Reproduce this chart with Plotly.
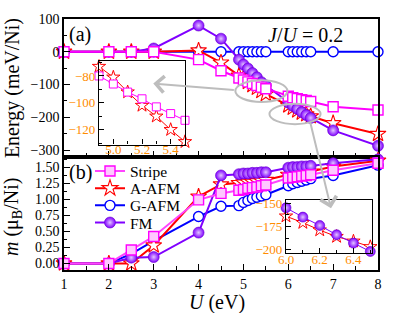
import plotly.graph_objects as go

# ---------------- data ----------------
U = [1, 2, 2.5, 3, 4, 4.5, 4.9, 5.0, 5.1, 5.2, 5.3, 5.4, 5.5,
     6.0, 6.1, 6.2, 6.3, 6.4, 6.5, 7, 8]

# Energy (meV/Ni), panel (a)
E_stripe = [0, 0, 0, 0, -24, -58, -80, -86, -92, -97, -103, -108, -113,
            -136, -140, -143, -146, -149, -152, -168, -178]
E_aafm = [0, 0, 0, 0, 4, -33, -73, -81, -92, -102, -110, -120, -129,
          -164, -171, -179, -186, -191, -197, -218, -251]
E_gafm = [0, 0, 0, 0, 0, 0, 0, 0, 0, 0, 0, 0, 0,
          0, 0, 0, 0, 0, 0, 0, 0]
E_fm = [0, 0, 0, 10, 80, 40, -24, -39, -51, -65, -78, -93, -103,
        -155, -165, -174, -184, -193, -202, -240, -287]

# magnetic moment m (muB/Ni), panel (b)
M_stripe = [0, 0, 0.21, 0.42, 0.99, 1.09, 1.14, 1.15, 1.17, 1.18, 1.19, 1.21, 1.22,
            1.33, 1.34, 1.35, 1.36, 1.37, 1.38, 1.45, 1.56]
M_aafm = [0, 0, 0, 0.28, 1.04, 1.23, 1.25, 1.26, 1.27, 1.27, 1.28, 1.29, 1.30,
          1.38, 1.39, 1.40, 1.41, 1.42, 1.43, 1.51, 1.60]
M_gafm = [0, 0, 0.15, 0.35, 0.73, 0.89, 0.90, 0.95, 0.98, 1.01, 1.03, 1.05, 1.07,
          1.21, 1.24, 1.26, 1.28, 1.30, 1.32, 1.37, 1.53]
M_fm = [0, 0, 0.09, 0.10, 0.48, 1.37, 1.39, 1.40, 1.40, 1.41, 1.41, 1.42, 1.42,
        1.49, 1.50, 1.50, 1.51, 1.51, 1.52, 1.56, 1.62]

NAMES = ["Stripe", "A-AFM", "G-AFM", "FM"]
X_TICKS = [1, 2, 3, 4, 5, 6, 7, 8]
M_TICKS = [0, 0.25, 0.5, 0.75, 1.0, 1.25, 1.5]
E_TICKS = [100, 0, -100, -200, -300]

INSET_A = slice(6, 13)   # U = 4.9 ... 5.5
INSET_B = slice(13, 19)  # U = 6.0 ... 6.5

# ---------------- style ----------------
FONT = "Liberation Serif"
ORANGE = "#FF8C00"
C_STRIPE, C_AAFM, C_GAFM, C_FM = "#FF00FF", "#FF0000", "#0000FF", "#8000FF"
GRAY = "#BDBDBD"
W, H = 399, 313
L, R, T, B = 64, 21, 14, 43
PW, PH = W - L - R, H - T - B
SPLIT = (270 - 155) / PH


def px(x):
    return (x - L) / PW


def py(y):
    return (270 - y) / PH


fig = go.Figure()


def fm_marker(size):
    return dict(symbol="circle", size=size, color=C_FM,
                gradient=dict(type="radial", color="#E2C6FF"),
                line=dict(width=0.6, color="#6A00D0"))


def add_set(xs, ys, xa, ya, legend, stripe_fill, stripe_line, lw):
    fig.add_trace(go.Scatter(x=xs, y=ys[2], xaxis=xa, yaxis=ya, name=NAMES[2],
                             mode="lines+markers", cliponaxis=False,
                             line=dict(color=C_GAFM, width=lw),
                             marker=dict(symbol="circle", size=10, color="white",
                                         line=dict(color=C_GAFM, width=1.4)),
                             showlegend=legend, legend="legend3"))
    fig.add_trace(go.Scatter(x=xs, y=ys[1], xaxis=xa, yaxis=ya, name=NAMES[1],
                             mode="lines+markers", cliponaxis=False,
                             line=dict(color=C_AAFM, width=lw),
                             marker=dict(symbol="star", size=12, color="white",
                                         line=dict(color=C_AAFM, width=1.1)),
                             showlegend=legend, legend="legend2"))
    fig.add_trace(go.Scatter(x=xs, y=ys[3], xaxis=xa, yaxis=ya, name=NAMES[3],
                             mode="lines+markers", cliponaxis=False,
                             line=dict(color=C_FM, width=lw),
                             marker=fm_marker(11),
                             showlegend=legend, legend="legend4"))
    fig.add_trace(go.Scatter(x=xs, y=ys[0], xaxis=xa, yaxis=ya, name=NAMES[0],
                             mode="lines+markers", cliponaxis=False,
                             line=dict(color=stripe_line, width=lw),
                             marker=dict(symbol="square", size=10, color=stripe_fill,
                                         line=dict(color=C_STRIPE, width=1.4)),
                             showlegend=legend, legend="legend"))


# panel (a)
add_set(U, [E_stripe, E_aafm, E_gafm, E_fm], "x", "y", False, "white", C_STRIPE, 2)
# panel (b)
add_set(U, [M_stripe, M_aafm, M_gafm, M_fm], "x2", "y2", True, "#FFC8FF", "#FF44FF", 2)

# inset (a): Stripe and A-AFM around U = 4.9-5.5
ua = U[INSET_A]
fig.add_trace(go.Scatter(x=ua, y=E_aafm[INSET_A], xaxis="x3", yaxis="y3", mode="lines+markers",
                         cliponaxis=False, showlegend=False, line=dict(color=C_AAFM, width=1),
                         marker=dict(symbol="star", size=10, color="white",
                                     line=dict(color=C_AAFM, width=1))))
fig.add_trace(go.Scatter(x=ua, y=E_stripe[INSET_A], xaxis="x3", yaxis="y3", mode="lines+markers",
                         cliponaxis=False, showlegend=False, line=dict(color=C_STRIPE, width=1),
                         marker=dict(symbol="square", size=8, color="white",
                                     line=dict(color=C_STRIPE, width=1))))
# inset (b): FM and A-AFM around U = 6.0-6.5
ub = U[INSET_B]
fig.add_trace(go.Scatter(x=ub, y=E_aafm[INSET_B], xaxis="x4", yaxis="y4", mode="lines+markers",
                         cliponaxis=False, showlegend=False, line=dict(color=C_AAFM, width=1),
                         marker=dict(symbol="star", size=10, color="white",
                                     line=dict(color=C_AAFM, width=1))))
fig.add_trace(go.Scatter(x=ub, y=E_fm[INSET_B], xaxis="x4", yaxis="y4", mode="lines+markers",
                         cliponaxis=False, showlegend=False, line=dict(color=C_FM, width=1),
                         marker=fm_marker(10)))

axis_common = dict(showline=True, linecolor="black", linewidth=1.5, mirror=True,
                   ticks="inside", ticklen=6, tickwidth=1.2, tickcolor="black",
                   showgrid=False, zeroline=False,
                   tickfont=dict(family=FONT, size=14, color="black"))
inset_common = dict(showline=True, linecolor="black", linewidth=1.2, mirror=True,
                    ticks="inside", ticklen=5, tickwidth=1, tickcolor="black",
                    showgrid=False, zeroline=False,
                    tickfont=dict(family=FONT, size=13, color=ORANGE))

legend_common = dict(x=px(90), xanchor="left", yanchor="middle",
                     bgcolor="rgba(0,0,0,0)", borderwidth=0,
                     font=dict(family=FONT, size=15.5, color="black"))
ROW_Y = [169.5, 187, 204.5, 222]

fig.update_layout(
    width=W, height=H,
    margin=dict(l=L, r=R, t=T, b=B, pad=0),
    paper_bgcolor="white", plot_bgcolor="white",
    font=dict(family=FONT, size=14, color="black"),
    xaxis=dict(axis_common, domain=[0, 1], anchor="y", range=[1, 8], tickvals=X_TICKS,
               showticklabels=False,
               minor=dict(ticks="inside", ticklen=4, tickcolor="black", dtick=0.5, tick0=1)),
    yaxis=dict(axis_common, domain=[SPLIT, 1], anchor="x", range=[-322, 100], tickvals=E_TICKS,
               minor=dict(ticks="inside", ticklen=3, tickcolor="black", dtick=50, tick0=0)),
    xaxis2=dict(axis_common, domain=[0, 1], anchor="y2", range=[1, 8], tickvals=X_TICKS,
                minor=dict(ticks="inside", ticklen=4, tickcolor="black", dtick=0.5, tick0=1)),
    yaxis2=dict(axis_common, domain=[0, SPLIT], anchor="x2", range=[-0.102, 1.653],
                tickvals=M_TICKS, tickformat=".2f",
                minor=dict(ticks="inside", ticklen=3, tickcolor="black", dtick=0.125, tick0=0)),
    xaxis3=dict(inset_common, domain=[px(99), px(185)], anchor="y3", range=[4.9, 5.5],
                dtick=0.2, tick0=5.0, tickformat=".1f", ticklabelstandoff=-7,
                minor=dict(ticks="inside", ticklen=3, tickcolor="black", dtick=0.1, tick0=5.0)),
    yaxis3=dict(inset_common, domain=[py(142), py(57)], anchor="x3", range=[-131, -69],
                dtick=20, tick0=-80,
                minor=dict(ticks="inside", ticklen=3, tickcolor="black", dtick=10, tick0=-80)),
    xaxis4=dict(inset_common, domain=[px(286), px(372)], anchor="y4", range=[6.0, 6.51],
                dtick=0.2, tick0=6.0, tickformat=".1f", ticklabelstandoff=-6,
                minor=dict(ticks="inside", ticklen=3, tickcolor="black", dtick=0.1, tick0=6.0)),
    yaxis4=dict(inset_common, domain=[py(253), py(199)], anchor="x4", range=[-204, -147],
                dtick=25, tick0=-150,
                minor=dict(ticks="inside", ticklen=3, tickcolor="black", dtick=12.5, tick0=-150)),
    legend=dict(legend_common, y=py(ROW_Y[0])),
    legend2=dict(legend_common, y=py(ROW_Y[1])),
    legend3=dict(legend_common, y=py(ROW_Y[2])),
    legend4=dict(legend_common, y=py(ROW_Y[3])),
    showlegend=True,
)

# highlight ellipses (panel a data coordinates)
fig.add_shape(type="circle", xref="x", yref="y", x0=4.82, x1=5.98, y0=-153, y1=-87,
              line=dict(color=GRAY, width=2), layer="above")
fig.add_shape(type="circle", xref="x", yref="y", x0=5.58, x1=6.72, y0=-221, y1=-159,
              line=dict(color=GRAY, width=2), layer="above")

# arrows to the insets
fig.add_annotation(x=2.99, y=-97, xref="x", yref="y", ax=4.82, ay=-117, axref="x", ayref="y",
                   text="", showarrow=True, arrowhead=4, arrowsize=1.6, arrowwidth=2,
                   arrowcolor=GRAY)
fig.add_annotation(x=px(331), y=py(207), xref="paper", yref="paper", ax=-21, ay=-87,
                   text="", showarrow=True, arrowhead=4, arrowsize=1.6, arrowwidth=2,
                   arrowcolor=GRAY)

# texts
tfont = dict(family=FONT, size=20, color="black")
fig.add_annotation(x=px(12), y=(1 + SPLIT) / 2, xref="paper", yref="paper", text="Energy (meV/Ni)",
                   textangle=-90, showarrow=False, font=tfont, xanchor="center", yanchor="middle")
fig.add_annotation(x=px(12), y=py(216), xref="paper", yref="paper",
                   text="<i>m</i> (μ<sub>B</sub>/Ni)",
                   textangle=-90, showarrow=False, font=tfont, xanchor="center", yanchor="middle")
fig.add_annotation(x=px(217), y=py(303), xref="paper", yref="paper", text="<i>U</i> (eV)",
                   showarrow=False, font=tfont, xanchor="center", yanchor="middle")
fig.add_annotation(x=px(80), y=py(30), xref="paper", yref="paper", text="(a)",
                   showarrow=False, font=tfont, xanchor="center", yanchor="middle")
fig.add_annotation(x=px(80), y=py(171), xref="paper", yref="paper", text="(b)",
                   showarrow=False, font=tfont, xanchor="center", yanchor="middle")
fig.add_annotation(x=px(305), y=py(30), xref="paper", yref="paper", text="<i>J</i>/<i>U</i> = 0.2",
                   showarrow=False, font=tfont, xanchor="center", yanchor="middle")

fig.write_html("out.html", config={"displayModeBar": False},
               post_script="document.body.style.margin='0px';")
